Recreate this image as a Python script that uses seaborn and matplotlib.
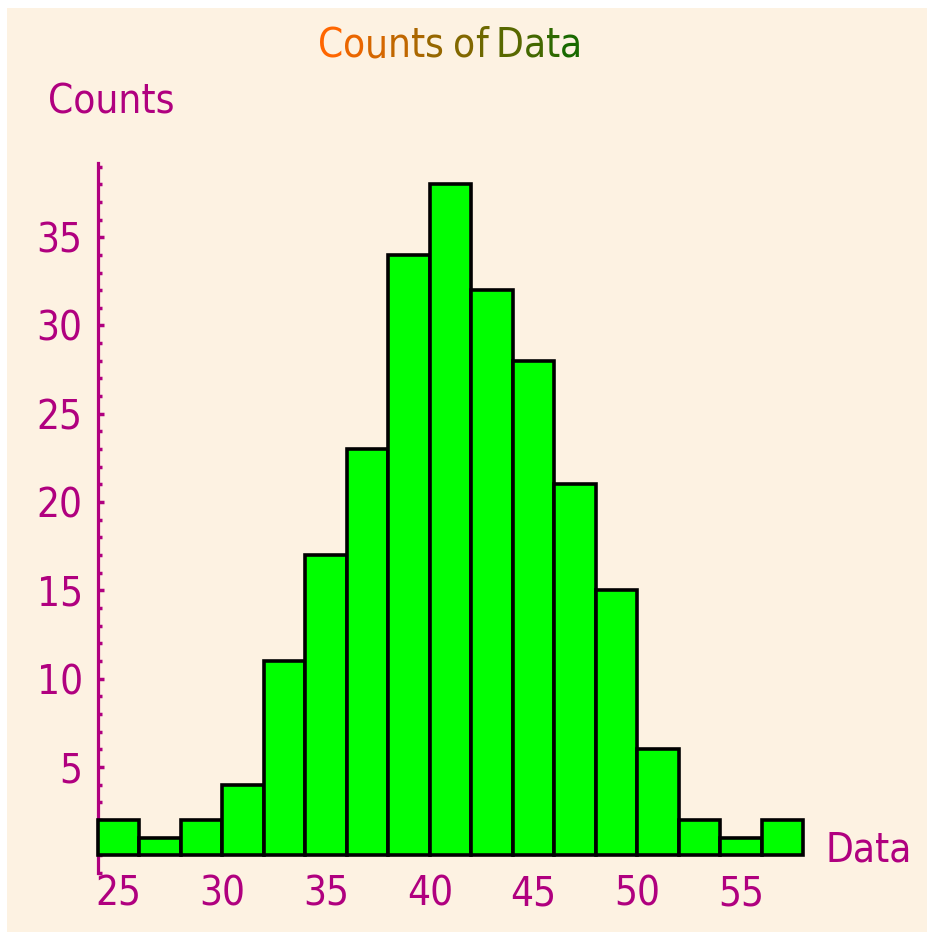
import numpy as np
import matplotlib
matplotlib.use("Agg")
import matplotlib.pyplot as plt
from matplotlib.patches import Rectangle
from matplotlib.ticker import MultipleLocator
import seaborn as sns

# histogram data (bin width 2)
bin_edges = [24, 26, 28, 30, 32, 34, 36, 38, 40, 42, 44, 46, 48, 50, 52, 54, 56, 58]
counts = [2, 1, 2, 4, 11, 17, 23, 34, 38, 32, 28, 21, 15, 6, 2, 1, 2]
x_ticks = [25, 30, 35, 40, 45, 50, 55]
y_ticks = [5, 10, 15, 20, 25, 30, 35]

title_text = "Counts of Data"
y_label = "Counts"
x_label = "Data"

# colours
purple = "#B0007F"
cream = "#FDF2E2"
bar_green = "#00FF00"
title_start = np.array([255, 102, 0]) / 255
title_end = np.array([25, 105, 0]) / 255

sns.set_style("ticks")
plt.rcParams["font.family"] = ["DejaVu Sans"]
plt.rcParams["font.stretch"] = "condensed"
font_size = 29

W, H = 928, 932
fig = plt.figure(figsize=(W / 100, H / 100), dpi=100, facecolor="white")
fig.patches.append(Rectangle((7 / W, 0), 1, (H - 8) / H, transform=fig.transFigure,
                             facecolor=cream, edgecolor="none", zorder=-10))

ax = fig.add_axes([98 / W, 59 / H, 705 / W, 710 / H])
ax.set_facecolor("none")

centers = [(a + b) / 2 for a, b in zip(bin_edges[:-1], bin_edges[1:])]
sns.histplot(x=centers, weights=counts, bins=bin_edges, ax=ax,
             color=bar_green, alpha=1, edgecolor="black", linewidth=2.6)
for p in ax.patches:
    p.set_zorder(3)
    p.set_clip_on(False)

ax.set_xlim(24, 58)
ax.set_ylim(-1, 39.2)
ax.set_xlabel("")
ax.set_ylabel("")

for side in ["top", "right", "bottom"]:
    ax.spines[side].set_visible(False)
ax.spines["left"].set_color(purple)
ax.spines["left"].set_linewidth(2.3)

ax.set_xticks(x_ticks)
ax.set_yticks(y_ticks)
ax.yaxis.set_minor_locator(MultipleLocator(1))
ax.tick_params(axis="x", length=0, pad=1, labelsize=font_size, labelcolor=purple)
ax.tick_params(axis="y", which="major", direction="in", length=4.5, width=2.5,
               color=purple, pad=11, labelsize=font_size, labelcolor=purple)
ax.tick_params(axis="y", which="minor", direction="in", length=3.2, width=2.5, color=purple)

# axis captions
fig.text(48 / W, 1 - 82 / H, y_label, color=purple, fontsize=font_size, ha="left", va="top")
fig.text(826 / W, 1 - 850 / H, x_label, color=purple, fontsize=font_size, ha="left", va="center")

# title with a letter-by-letter colour gradient
letters = [c for c in title_text if c != " "]
n = len(letters)
first = prev = None
k = 0
gap = 0
for ch in title_text:
    if ch == " ":
        gap = 6
        continue
    col = title_start + (title_end - title_start) * k / (n - 1)
    if prev is None:
        first = prev = fig.text(0, 1 - 66 / H, ch, color=col, fontsize=font_size,
                                ha="left", va="bottom")
    else:
        prev = ax.annotate(ch, xy=(1, 0), xycoords=prev, xytext=(gap, 0),
                           textcoords="offset points", color=col,
                           fontsize=font_size, ha="left", va="bottom",
                           annotation_clip=False)
    gap = 0
    k += 1

# centre the title around x = 450 px
fig.canvas.draw()
r = fig.canvas.get_renderer()
width = prev.get_window_extent(r).x1 - first.get_window_extent(r).x0
first.set_x((450 - width / 2) / W)

fig.savefig("out.png", dpi=100, facecolor="white")
